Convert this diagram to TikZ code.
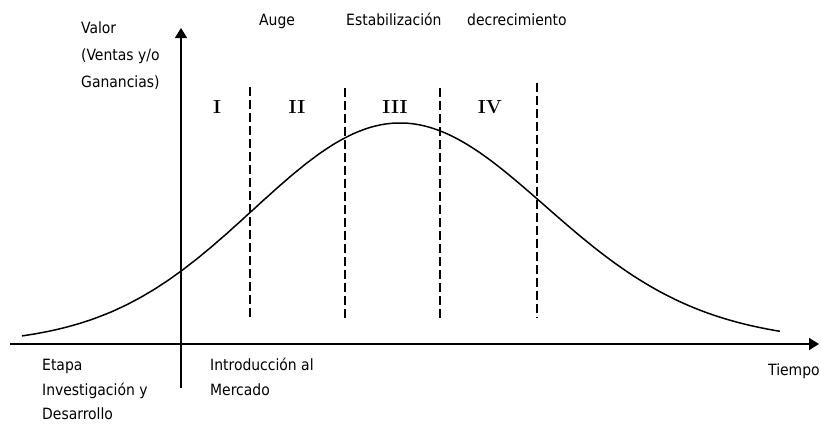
\documentclass[tikz,border=0pt]{standalone}
\usepackage{fontspec}
\setmainfont{DejaVu Sans Condensed}
\newfontfamily\numfont{Latin Modern Roman}
\usetikzlibrary{arrows.meta}
\begin{document}
\begin{tikzpicture}[x=1pt,y=-1pt,
  lbl/.style={anchor=base west,inner sep=0pt,font=\fontsize{15.5}{17}\selectfont},
  num/.style={anchor=base,inner sep=0pt,font=\numfont\bfseries\fontsize{19}{21}\selectfont},
  axis/.style={line width=1.6pt,-{Triangle[width=12pt,length=10pt]}},
  divider/.style={line width=1.3pt,dash pattern=on 9pt off 4pt},
  curve/.style={line width=1.5pt,line join=round}]
\useasboundingbox (0,0) rectangle (821,426);
% axes
\coordinate (xs) at (10,344);
\coordinate (xe) at (819,344);
\coordinate (ys) at (181,388);
\coordinate (ye) at (181,28);
\draw[axis] (xs) -- (xe);
\draw[axis] (ys) -- (ye);
% dividers
\foreach \n/\xx/\ya/\yb in {d1/250/87/320, d2/345/88/320, d3/440/88/320, d4/537/83/318}{
  \coordinate (\n t) at (\xx,\ya);
  \coordinate (\n b) at (\xx,\yb);
  \draw[divider] (\n t) -- (\n b);
}
% curve
\draw[curve] plot[domain=-3.78:0,samples=80,smooth]
   ({400+100*\x},{344-221*exp(-0.5*(100*\x/147)^2)})
  -- plot[domain=0:3.8,samples=80,smooth]
   ({400+100*\x},{344-221*exp(-0.5*(100*\x/(148+11*(\x/3.8)^2))^2)});
% labels
\node[lbl] (v1) at (81,33) {Valor};
\node[lbl] (v2) at (81,60) {(Ventas y/o};
\node[lbl] (v3) at (81,87) {Ganancias)};
\node[lbl] (auge) at (259,25) {Auge};
\node[lbl] (estab) at (346,25) {Estabilización};
\node[lbl] (decr) at (467,25) {decrecimiento};
\node[num] (n1) at (217,113) {I};
\node[num] (n2) at (297,113) {II};
\node[num] (n3) at (395,113) {III};
\node[num] (n4) at (490,113) {IV};
\node[lbl] (e1) at (42,370) {Etapa};
\node[lbl] (e2) at (42,395) {Investigación y};
\node[lbl] (e3) at (42,419) {Desarrollo};
\node[lbl] (i1) at (210,370) {Introducción al};
\node[lbl] (i2) at (210,395) {Mercado};
\node[lbl] (t) at (768,375) {Tiempo};
\end{tikzpicture}
\end{document}
